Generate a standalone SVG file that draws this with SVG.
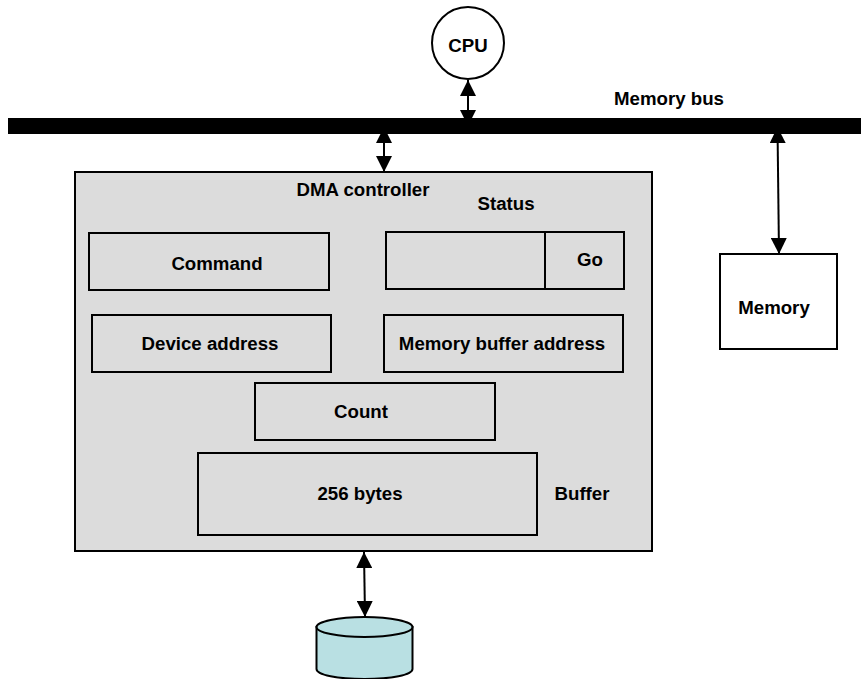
<svg xmlns="http://www.w3.org/2000/svg" width="861" height="679" viewBox="0 0 861 679">
<defs><marker id="a" viewBox="0 0 10 10" refX="10" refY="5" markerWidth="16" markerHeight="16" markerUnits="userSpaceOnUse" orient="auto-start-reverse"><path d="M0 0L10 5L0 10Z" fill="#000"/></marker></defs>
<style>
text{font-family:"Liberation Sans",Arial,sans-serif;font-size:18.67px;font-weight:bold;fill:#000;text-anchor:middle}
.b{fill:none;stroke:#000;stroke-width:2}
.w{fill:#fff;stroke:#000;stroke-width:2}
.c{stroke:#000;stroke-width:2;fill:none;marker-start:url(#a);marker-end:url(#a)}
.k{fill:#b9e0e3;stroke:#000;stroke-width:2}
</style>
<rect width="861" height="679" fill="#fff"/>
<g id="connectors">
<path class="c" d="M468 80V126"/><path class="c" d="M384 127V172"/><path class="c" d="M777.500 127L779 254"/><path class="c" d="M364 552L365 617"/>
</g>
<g id="bus"><rect x="8" y="118" width="853" height="16" fill="#000"/><text x="669" y="105">Memory bus</text></g>
<g id="cpu"><circle cx="468" cy="43" r="36" class="w"/><text x="468" y="52">CPU</text></g>
<g id="memory"><rect x="720" y="254" width="117" height="95" class="w"/><text x="774" y="314">Memory</text></g>
<g id="dma"><rect x="75" y="172" width="577" height="379" fill="#dcdcdc" stroke="#000" stroke-width="2"/><text x="363" y="196">DMA controller</text><text x="506" y="210">Status</text></g>
<g id="command"><rect x="89" y="233" width="240" height="57" class="b"/><text x="217" y="270">Command</text></g>
<g id="status"><rect x="386" y="232" width="238" height="57" class="b"/><path d="M545 232V289" class="b"/><text x="590" y="266">Go</text></g>
<g id="device"><rect x="92" y="315" width="239" height="57" class="b"/><text x="210" y="350">Device address</text></g>
<g id="membuf"><rect x="384" y="315" width="239" height="57" class="b"/><text x="502" y="350">Memory buffer address</text></g>
<g id="count"><rect x="255" y="383" width="240" height="57" class="b"/><text x="361" y="418">Count</text></g>
<g id="buffer"><rect x="198" y="453" width="339" height="82" class="b"/><text x="360" y="500">256 bytes</text><text x="582" y="500">Buffer</text></g>
<g id="disk"><path d="M316.500 627V669C316.500 675 338 679 364.500 679S412.500 675 412.500 669V627Z" class="k"/><ellipse cx="364.500" cy="627" rx="48" ry="10" class="k"/></g>
</svg>
